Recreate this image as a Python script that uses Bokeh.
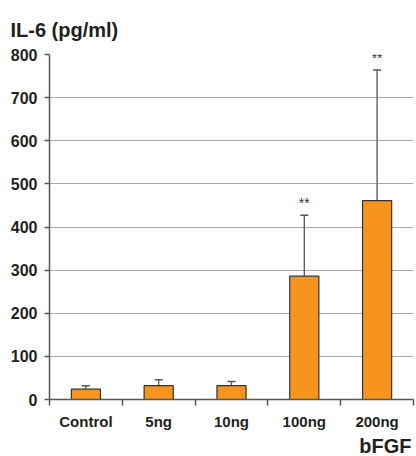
from bokeh.plotting import figure
from bokeh.models import Range1d, FixedTicker, ColumnDataSource, Whisker, TeeHead, Title
from bokeh.core.properties import value
from bokeh.embed import file_html
from bokeh.resources import INLINE

# ---- data ----
categories = ["Control", "5ng", "10ng", "100ng", "200ng"]
means = [24, 32, 32, 286, 461]
sd_upper = [8, 14, 10, 141, 303]
significance = ["", "", "", "**", "**"]
y_ticks = [0, 100, 200, 300, 400, 500, 600, 700, 800]
y_title = "IL-6 (pg/ml)"
x_title = "bFGF"

FONT = "Liberation Sans"
TEXT = "#231F20"

xs = [i + 0.5 for i in range(len(categories))]
tops = [m + s for m, s in zip(means, sd_upper)]
src = ColumnDataSource(dict(x=xs, mean=means, top=tops, sig=significance))

p = figure(width=416, height=456, output_backend="svg", toolbar_location=None,
           x_range=Range1d(0, len(categories)), y_range=Range1d(y_ticks[0], y_ticks[-1]),
           min_border_left=49, min_border_right=3, min_border_top=54, min_border_bottom=57)
p.outline_line_color = None

# grid
p.xgrid.visible = False
p.ygrid.ticker = FixedTicker(ticks=y_ticks)
p.ygrid.grid_line_color = "#a8a8a8"
p.ygrid.grid_line_width = 1

# bars
p.vbar(x="x", top="mean", bottom=0, width=0.4, source=src,
       fill_color="#F7941D", line_color="#333333", line_width=1.2)

# error bars (upper only)
p.add_layout(Whisker(source=src, base="x", upper="top", lower="mean",
                     line_color="#555555", line_width=1.3, lower_head=None,
                     upper_head=TeeHead(size=8, line_color="#555555", line_width=1.5)))

# significance stars
p.text(x="x", y="top", text="sig", source=src, text_align="center", text_baseline="bottom",
       y_offset=-4, text_font=value(FONT), text_font_size="14px", text_color="#333333")

# y axis
ya = p.yaxis[0]
ya.ticker = FixedTicker(ticks=y_ticks)
ya.axis_line_color = "#555555"
ya.axis_line_width = 1.5
ya.major_tick_line_color = "#555555"
ya.major_tick_line_width = 1.5
ya.major_tick_out = 5
ya.major_tick_in = 0
ya.minor_tick_out = 0
ya.minor_tick_in = 0
ya.major_label_standoff = 7
ya.major_label_text_font = FONT
ya.major_label_text_font_style = "bold"
ya.major_label_text_font_size = "16px"
ya.major_label_text_color = TEXT

# x axis
xa = p.xaxis[0]
xa.ticker = FixedTicker(ticks=xs, minor_ticks=list(range(len(categories) + 1)))
xa.major_label_overrides = {float(x): c for x, c in zip(xs, categories)}
xa.axis_line_color = "#555555"
xa.axis_line_width = 1.5
xa.major_tick_out = 0
xa.major_tick_in = 0
xa.minor_tick_out = 6
xa.minor_tick_in = 0
xa.minor_tick_line_color = "#555555"
xa.minor_tick_line_width = 1.5
xa.major_label_standoff = 7
xa.major_label_text_font = FONT
xa.major_label_text_font_style = "bold"
xa.major_label_text_font_size = "15px"
xa.major_label_text_color = TEXT

# titles
p.title.text = y_title
p.title.align = "left"
p.title.offset = -39
p.title.standoff = 28
p.title.text_font = FONT
p.title.text_font_style = "bold"
p.title.text_font_size = "20px"
p.title.text_color = TEXT
p.add_layout(Title(text=x_title, align="right", offset=2, standoff=0,
                   text_font=FONT, text_font_style="bold", text_font_size="20px",
                   text_color=TEXT), "below")

open("out.html", "w").write(file_html(p, INLINE))
